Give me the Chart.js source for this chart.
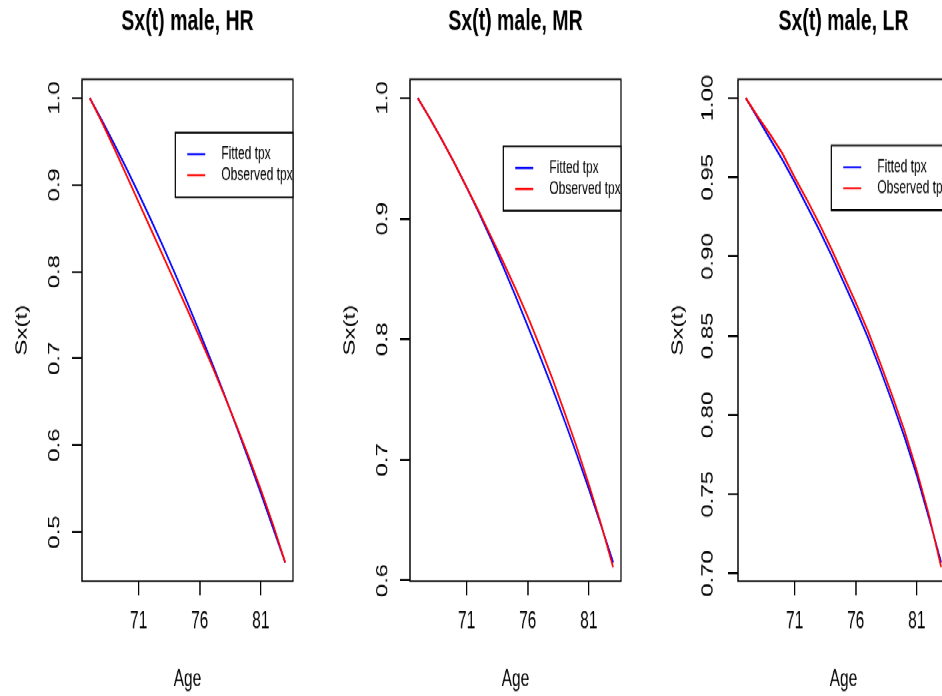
<!DOCTYPE html>
<html>
<head>
<meta charset="utf-8">
<script src="https://cdn.jsdelivr.net/npm/chart.js@4.4.1/dist/chart.umd.min.js"></script>
<style>
  html, body { margin: 0; padding: 0; background: #fff; overflow: hidden; }
  body { width: 942px; height: 696px; }
  /* panels are drawn at 464px tall and stretched to the full page height */
  #panels { position: relative; width: 984px; height: 464px; transform: scaleY(1.5); transform-origin: 0 0; }
  #panels canvas { position: absolute; top: 0; }
</style>
</head>
<body>
<div id="panels">
  <canvas id="panelHR" width="328" height="464" style="left:0px"></canvas>
  <canvas id="panelMR" width="328" height="464" style="left:328px"></canvas>
  <canvas id="panelLR" width="328" height="464" style="left:656px"></canvas>
</div>
<script>
const ages = [67, 68, 69, 70, 71, 72, 73, 74, 75, 76, 77, 78, 79, 80, 81, 82, 83];

const fittedHR   = [1.000, 0.974, 0.947, 0.919, 0.890, 0.860, 0.829, 0.797, 0.764, 0.730, 0.695, 0.659, 0.622, 0.584, 0.545, 0.505, 0.465];
const observedHR = [1.000, 0.972, 0.942, 0.911, 0.880, 0.849, 0.818, 0.787, 0.756, 0.724, 0.692, 0.658, 0.623, 0.587, 0.549, 0.509, 0.465];

const fittedMR   = [1.000, 0.983, 0.965, 0.946, 0.926, 0.905, 0.883, 0.860, 0.836, 0.811, 0.786, 0.760, 0.733, 0.705, 0.676, 0.646, 0.615];
const observedMR = [1.000, 0.983, 0.965, 0.946, 0.926, 0.906, 0.885, 0.864, 0.842, 0.819, 0.794, 0.768, 0.740, 0.711, 0.680, 0.647, 0.611];

const fittedLR   = [1.000, 0.987, 0.974, 0.961, 0.947, 0.932, 0.917, 0.901, 0.884, 0.867, 0.849, 0.829, 0.808, 0.786, 0.762, 0.735, 0.707];
const observedLR = [1.000, 0.988, 0.977, 0.965, 0.950, 0.936, 0.921, 0.905, 0.888, 0.871, 0.853, 0.833, 0.812, 0.790, 0.765, 0.737, 0.704];

const ageTicks = [71, 76, 81];
const yTicksHR = [0.5, 0.6, 0.7, 0.8, 0.9, 1.0];
const yTicksMR = [0.6, 0.7, 0.8, 0.9, 1.0];
const yTicksLR = [0.70, 0.75, 0.80, 0.85, 0.90, 0.95, 1.00];

const seriesNames = ['Fitted tpx', 'Observed tpx'];
const seriesColors = ['#0000ff', '#ff0000'];

const FONT = '"Liberation Sans", Arial, Helvetica, sans-serif';
Chart.defaults.font.family = FONT;
Chart.defaults.color = '#000';

// full box around the plotting region
const frameBox = {
  id: 'frameBox',
  afterDatasetsDraw(chart) {
    const { ctx, chartArea: a } = chart;
    ctx.save();
    ctx.strokeStyle = '#000';
    ctx.lineWidth = 1.3;
    ctx.strokeRect(a.left, a.top, a.right - a.left, a.bottom - a.top);
    ctx.restore();
  }
};

// boxed legend anchored at a data position (top-left corner)
const boxLegend = {
  id: 'boxLegend',
  afterDraw(chart, args, opts) {
    const { ctx, chartArea: a, scales } = chart;
    const left = scales.x.getPixelForValue(opts.at[0]);
    const top = scales.y.getPixelForValue(opts.at[1]);
    const w = a.right - left;
    const h = 43;
    ctx.save();
    ctx.fillStyle = '#fff';
    ctx.fillRect(left, top, w, h);
    ctx.strokeStyle = '#000';
    ctx.lineWidth = 1.3;
    ctx.strokeRect(left, top, w, h);
    ctx.font = '12px ' + FONT;
    ctx.textBaseline = 'middle';
    ctx.textAlign = 'left';
    chart.data.datasets.forEach((ds, i) => {
      const y = top + 14.4 + i * 14;
      ctx.strokeStyle = ds.borderColor;
      ctx.lineWidth = 1.4;
      ctx.beginPath();
      ctx.moveTo(left + 12, y);
      ctx.lineTo(left + 30, y);
      ctx.stroke();
      ctx.fillStyle = '#000';
      ctx.fillText(ds.label, left + 46, y);
    });
    ctx.restore();
  }
};

function drawPanel(id, title, fitted, observed, yTicks, digits, legendAt, tickPad) {
  // axis limits come from the fitted curve, padded by 4% like base R graphics
  const lo = Math.min(...fitted);
  const hi = Math.max(...fitted);
  const yPad = (hi - lo) * 0.04;
  const xLo = ages[0];
  const xHi = ages[ages.length - 1];
  const xPad = (xHi - xLo) * 0.04;

  const series = [fitted, observed];

  new Chart(document.getElementById(id), {
    type: 'line',
    data: {
      datasets: series.map((vals, i) => ({
        label: seriesNames[i],
        data: ages.map((a, j) => ({ x: a, y: vals[j] })),
        borderColor: seriesColors[i],
        order: i === 1 ? 0 : 1
      }))
    },
    options: {
      responsive: false,
      animation: false,
      devicePixelRatio: 1.5,
      layout: { padding: { left: 0, right: 35, top: 0, bottom: 0 } },
      elements: {
        point: { radius: 0 },
        line: { borderWidth: 1.6, tension: 0 }
      },
      plugins: {
        legend: { display: false },
        tooltip: { enabled: false },
        title: {
          display: true,
          text: title,
          fullSize: false,
          color: '#000',
          font: { size: 19.5, weight: 'bold' },
          padding: { top: 3, bottom: 26.5 }
        },
        boxLegend: { at: legendAt }
      },
      scales: {
        x: {
          type: 'linear',
          min: xLo - xPad,
          max: xHi + xPad,
          afterBuildTicks: (s) => { s.ticks = ageTicks.map((v) => ({ value: v })); },
          afterFit: (s) => { s.height = 76.7; },
          grid: { drawOnChartArea: false, drawTicks: true, tickLength: 9.3, color: '#000', lineWidth: 1.3 },
          border: { display: false },
          ticks: { color: '#000', font: { size: 15.5 }, padding: 8.6, maxRotation: 0, autoSkip: false },
          title: { display: true, text: 'Age', color: '#000', font: { size: 15.5 }, padding: { top: 0, bottom: 1.4 } }
        },
        y: {
          min: lo - yPad,
          max: hi + yPad,
          afterBuildTicks: (s) => { s.ticks = yTicks.map((v) => ({ value: v })); },
          afterFit: (s) => { s.width = 82; },
          grid: { drawOnChartArea: false, drawTicks: true, tickLength: 10, color: '#000', lineWidth: 1.3 },
          border: { display: false },
          ticks: {
            color: '#000',
            font: { size: 16 },
            minRotation: 90,
            maxRotation: 90,
            crossAlign: 'center',
            padding: tickPad,
            autoSkip: false,
            callback: (v) => Number(v).toFixed(digits)
          },
          title: { display: true, text: 'Sx(t)', color: '#000', font: { size: 16 }, padding: { top: 12.5, bottom: 0 } }
        }
      }
    },
    plugins: [frameBox, boxLegend]
  });
}

drawPanel('panelHR', 'Sx(t) male, HR', fittedHR, observedHR, yTicksHR, 1, [74, 0.96], 6);
drawPanel('panelMR', 'Sx(t) male, MR', fittedMR, observedMR, yTicksMR, 1, [74, 0.96], 6);
drawPanel('panelLR', 'Sx(t) male, LR', fittedLR, observedLR, yTicksLR, 2, [74, 0.97], 4);
</script>
</body>
</html>
